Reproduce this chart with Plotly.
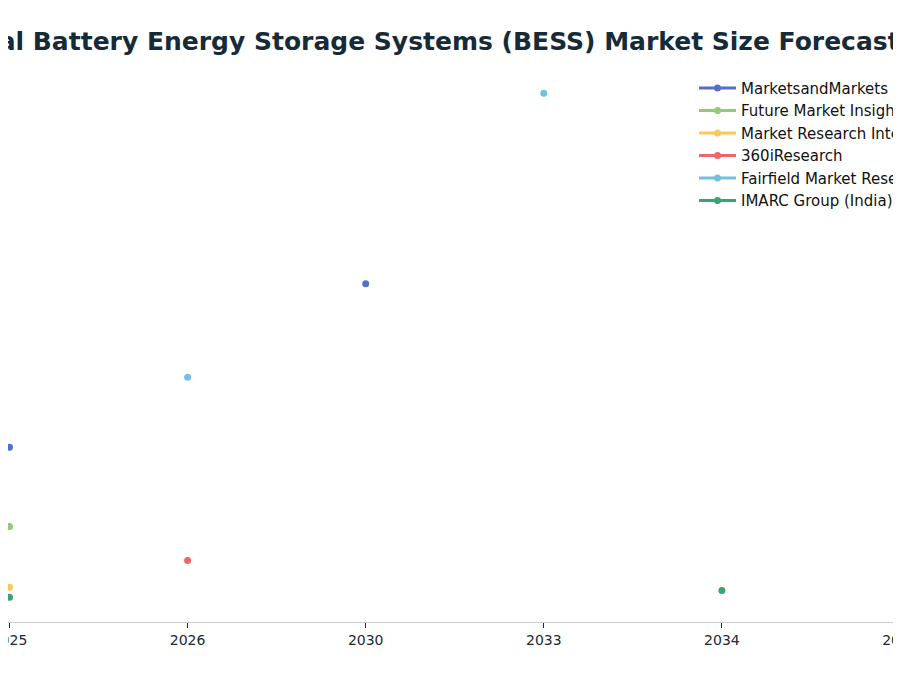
import plotly.graph_objects as go

# Forecast years (categorical x axis)
years = ["2025", "2026", "2030", "2033", "2034", "2035"]

# Market size estimates, USD billion (None = no estimate for that year)
marketsandmarkets = [51.4, None, 99.5, None, None, None]
future_market_insights = [28.1, None, None, None, None, None]
market_research_intellect = [10.2, None, None, None, None, None]
research_360i = [None, 18.1, None, None, None, None]
fairfield = [None, 72.0, None, 155.5, None, None]
imarc_india = [7.3, None, None, None, 9.3, None]

series = [
    ("MarketsandMarkets", marketsandmarkets, "#5470c6"),
    ("Future Market Insights", future_market_insights, "#91cc75"),
    ("Market Research Intellect", market_research_intellect, "#fac858"),
    ("360iResearch", research_360i, "#ee6666"),
    ("Fairfield Market Research", fairfield, "#73c0de"),
    ("IMARC Group (India)", imarc_india, "#3ba272"),
]

fig = go.Figure()
for name, values, color in series:
    fig.add_trace(go.Scatter(
        x=years, y=values, name=name, mode="lines+markers",
        connectgaps=False,
        line=dict(color=color, width=3),
        marker=dict(color=color, size=7),
    ))

fig.update_layout(
    width=893,
    height=660,
    title=dict(
        text="Global Battery Energy Storage Systems (BESS) Market Size Forecasts",
        x=0.4664, xanchor="center", y=0.95, yanchor="middle",
        font=dict(family="DejaVu Sans", size=25, color="#172a38", weight="bold"),
    ),
    font=dict(family="DejaVu Sans", color="#172a38"),
    paper_bgcolor="white",
    plot_bgcolor="white",
    margin=dict(l=0, r=0, t=60, b=46, autoexpand=False),
    legend=dict(
        x=0.7682, xanchor="left", y=0.9933, yanchor="top",
        font=dict(size=15, color="#111111"),
        itemwidth=37,
        bgcolor="rgba(0,0,0,0)",
    ),
    showlegend=True,
)

fig.update_xaxes(
    type="category", range=[-0.0084, 5.0056],
    showgrid=False, showline=True, linecolor="#cccccc", linewidth=1,
    ticks="outside", ticklen=5, tickcolor="#172a38",
    tickfont=dict(size=14, color="#172a38"),
)
fig.update_yaxes(
    range=[0, 554 / 3.4], visible=False, showgrid=False, zeroline=False,
)

fig.write_html("out.html")
